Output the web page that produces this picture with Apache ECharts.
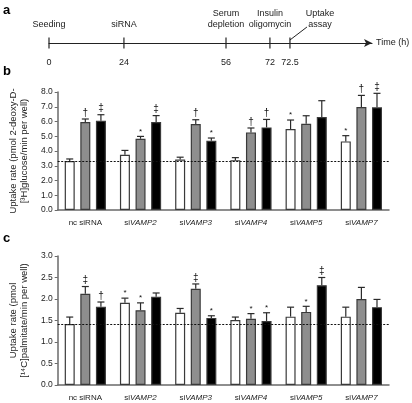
<!DOCTYPE html>
<html><head><meta charset="utf-8">
<script src="https://cdn.jsdelivr.net/npm/echarts@6/dist/echarts.min.js"></script>
<style>html,body{margin:0;padding:0;background:#fff}#c{width:412px;height:403px}</style>
</head><body><div id="c"></div>
<script>
// ---------- data ----------
const categories = ['nc siRNA', 'siVAMP2', 'siVAMP3', 'siVAMP4', 'siVAMP5', 'siVAMP7'];
const seriesNames = ['Basal', 'Insulin', 'Oligomycin'];

// panel b: 2-deoxy-D-[3H]glucose uptake
const glucBasal      = [3.32, 3.75, 3.42, 3.38, 5.49, 4.65];
const glucBasalSem   = [0.14, 0.29, 0.16, 0.17, 0.61, 0.39];
const glucInsulin    = [5.97, 4.83, 5.83, 5.26, 5.85, 6.98];
const glucInsulinSem = [0.20, 0.16, 0.29, 0.30, 0.54, 0.79];
const glucOligo      = [6.05, 5.97, 4.70, 5.60, 6.31, 6.96];
const glucOligoSem   = [0.41, 0.43, 0.18, 0.54, 1.10, 0.95];
const glucBasalSig   = ['', '', '', '', '*', '*'];
const glucInsulinSig = ['†', '*', '†', '†', '', '†'];
const glucOligoSig   = ['‡', '‡', '*', '†', '', '‡'];
const glucTicks = [0, 1, 2, 3, 4, 5, 6, 7, 8];

// panel c: [14C]palmitate uptake
const palBasal      = [1.42, 1.91, 1.68, 1.51, 1.59, 1.59];
const palBasalSem   = [0.16, 0.11, 0.10, 0.07, 0.22, 0.22];
const palInsulin    = [2.12, 1.74, 2.24, 1.54, 1.70, 2.00];
const palInsulinSem = [0.17, 0.17, 0.11, 0.12, 0.13, 0.27];
const palOligo      = [1.82, 2.05, 1.56, 1.49, 2.32, 1.81];
const palOligoSem   = [0.11, 0.09, 0.05, 0.19, 0.18, 0.18];
const palBasalSig   = ['', '*', '', '', '', ''];
const palInsulinSig = ['‡', '*', '‡', '*', '*', ''];
const palOligoSig   = ['†', '', '*', '*', '‡', ''];
const palTicks = [0, 0.5, 1, 1.5, 2, 2.5, 3];

// panel a: timeline (schematic positions along the arrow)
const timelineEvents = ['Seeding', 'siRNA', 'Serum\ndepletion', 'Insulin\noligomycin', 'Uptake\nassay'];
const timelineTimes  = ['0', '24', '56', '72', '72.5'];
const timelinePos    = [0, 23.2, 54.8, 68.4, 74.6];

// ---------- styles ----------
const FONT = 'Liberation Sans, Arial, sans-serif';
const fills = ['#ffffff', '#8e8e8e', '#000000'];
const BAR_W = 10, BAR_STEP = 15.6;
const offsets = [-BAR_STEP, 0, BAR_STEP];

function catLabel(v) {
  if (v.indexOf('siVAMP') === 0) return '{n|si}{i|' + v.slice(2) + '}';
  return '{n|' + v + '}';
}

function makeX(gi) {
  return {
    type: 'category', gridIndex: gi, data: categories,
    axisLine: {lineStyle: {color: '#6a6a6a', width: 1.5}},
    axisTick: {show: false},
    axisLabel: {margin: 9, interval: 0, formatter: catLabel,
      rich: {n: {fontFamily: FONT, fontSize: 8, color: '#222'},
             i: {fontFamily: FONT, fontSize: 8, fontStyle: 'italic', color: '#222'}}}
  };
}
function makeY(gi, max, interval, name, gap) {
  return {
    type: 'value', gridIndex: gi, min: 0, max: max, interval: interval,
    name: name, nameLocation: 'middle', nameGap: gap, nameRotate: 90,
    nameTextStyle: {fontFamily: FONT, fontSize: 9.5, color: '#222', lineHeight: 11},
    axisLine: {show: true, lineStyle: {color: '#6a6a6a', width: 1.5}},
    axisTick: {show: true, length: 3, lineStyle: {color: '#6a6a6a'}},
    splitLine: {show: false},
    axisLabel: {fontFamily: FONT, fontSize: 8.5, color: '#222', margin: 5,
      formatter: v => v.toFixed(1)}
  };
}

function barSeries(gi, k, vals, base) {
  const s = {
    type: 'bar', name: seriesNames[k], xAxisIndex: gi, yAxisIndex: gi,
    data: vals, barWidth: BAR_W, barGap: ((BAR_STEP - BAR_W) / BAR_W * 100) + '%',
    barCategoryGap: '27%',
    itemStyle: {color: fills[k], borderColor: '#3a3a3a', borderWidth: 1.2},
    silent: true, z: 3
  };
  if (k === 0) {
    s.markLine = {
      silent: true, symbol: 'none', label: {show: false},
      lineStyle: {type: [2, 1.5], color: '#111', width: 1},
      data: [{yAxis: base}]
    };
  }
  return s;
}

function errSeries(gi, k, vals, sems, sigs) {
  const data = vals.map((v, i) => [i, v, v + sems[i], sigs[i]]);
  return {
    type: 'custom', xAxisIndex: gi, yAxisIndex: gi, data: data, z: 4, silent: true,
    renderItem: function (params, api) {
      const i = api.value(0);
      const p0 = api.coord([i, api.value(1)]);
      const p1 = api.coord([i, api.value(2)]);
      const x = p0[0] + offsets[k];
      const sig = data[params.dataIndex][3];
      const children = [
        {type: 'line', shape: {x1: x, y1: p0[1], x2: x, y2: p1[1]},
         style: {stroke: '#2a2a2a', lineWidth: 1.2}},
        {type: 'line', shape: {x1: x - 3.5, y1: p1[1], x2: x + 3.5, y2: p1[1]},
         style: {stroke: '#2a2a2a', lineWidth: 1.2}}
      ];
      if (sig) {
        const star = sig === '*';
        children.push({type: 'text', x: x, y: p1[1] - 1,
          style: {text: sig, fontFamily: FONT, fontSize: star ? 8 : 10,
                  fill: '#111', align: 'center', verticalAlign: 'bottom'}});
      }
      return {type: 'group', children: children};
    }
  };
}

const chart = echarts.init(document.getElementById('c'), null, {renderer: 'canvas'});
chart.setOption({
  animation: false,
  textStyle: {fontFamily: FONT},
  grid: [
    {left: 49, right: 23, top: 92, bottom: 193},
    {left: 49, right: 23, top: 256, bottom: 18},
    {left: 49, right: 40, top: 13, height: 30}
  ],
  xAxis: [
    makeX(0), makeX(1),
    {type: 'value', gridIndex: 2, min: 0, max: 100,
     name: 'Time (h)', nameLocation: 'end', nameGap: 4,
     nameTextStyle: {fontFamily: FONT, fontSize: 9, color: '#222'},
     axisLine: {lineStyle: {color: '#222', width: 1.2}, symbol: ['none', 'arrow'], symbolSize: [6, 8]},
     axisTick: {show: false}, axisLabel: {show: false}, splitLine: {show: false}}
  ],
  yAxis: [
    makeY(0, glucTicks[glucTicks.length - 1], glucTicks[1] - glucTicks[0],
      'Uptake rate (pmol 2-deoxy-D-\n[³H]glucose/min per well)', 21),
    makeY(1, palTicks[palTicks.length - 1], palTicks[1] - palTicks[0],
      'Uptake rate (pmol\n[¹⁴C]palmitate/min per well)', 21),
    {type: 'value', gridIndex: 2, min: 0, max: 1, show: false}
  ],
  graphic: [
    {type: 'text', left: 3, top: 4, style: {text: 'a', fontFamily: FONT, fontSize: 13, fontWeight: 'bold', fill: '#000'}},
    {type: 'text', left: 3, top: 65, style: {text: 'b', fontFamily: FONT, fontSize: 13, fontWeight: 'bold', fill: '#000'}},
    {type: 'text', left: 3, top: 232, style: {text: 'c', fontFamily: FONT, fontSize: 13, fontWeight: 'bold', fill: '#000'}}
  ],
  series: [
    barSeries(0, 0, glucBasal, glucBasal[0]),
    barSeries(0, 1, glucInsulin),
    barSeries(0, 2, glucOligo),
    errSeries(0, 0, glucBasal, glucBasalSem, glucBasalSig),
    errSeries(0, 1, glucInsulin, glucInsulinSem, glucInsulinSig),
    errSeries(0, 2, glucOligo, glucOligoSem, glucOligoSig),
    barSeries(1, 0, palBasal, palBasal[0]),
    barSeries(1, 1, palInsulin),
    barSeries(1, 2, palOligo),
    errSeries(1, 0, palBasal, palBasalSem, palBasalSig),
    errSeries(1, 1, palInsulin, palInsulinSem, palInsulinSig),
    errSeries(1, 2, palOligo, palOligoSem, palOligoSig),
    {
      type: 'custom', xAxisIndex: 2, yAxisIndex: 2, silent: true,
      data: timelinePos.map((p, i) => [p, 0, i]),
      renderItem: function (params, api) {
        const idx = api.value(2);
        const pt = api.coord([api.value(0), 0]);
        const x = pt[0], y = pt[1];
        const last = idx === timelinePos.length - 1;
        const ch = [
          {type: 'line', shape: {x1: x, y1: y - 5.5, x2: x, y2: y + 5.5},
           style: {stroke: '#222', lineWidth: 1.2}},
          {type: 'text', x: x, y: y + 20,
           style: {text: timelineTimes[idx], fontFamily: FONT, fontSize: 9, fill: '#222',
                   align: 'center', verticalAlign: 'middle'}}
        ];
        if (last) {
          ch.push({type: 'line', shape: {x1: x, y1: y - 3, x2: x + 17, y2: y - 16},
                   style: {stroke: '#222', lineWidth: 1}});
          ch.push({type: 'text', x: x + 30, y: y - 13,
            style: {text: timelineEvents[idx], fontFamily: FONT, fontSize: 9, fill: '#222',
                    align: 'center', verticalAlign: 'bottom', lineHeight: 11}});
        } else {
          ch.push({type: 'text', x: x, y: y - 13,
            style: {text: timelineEvents[idx], fontFamily: FONT, fontSize: 9, fill: '#222',
                    align: 'center', verticalAlign: 'bottom', lineHeight: 11}});
        }
        return {type: 'group', children: ch};
      }
    }
  ]
});
</script></body></html>
